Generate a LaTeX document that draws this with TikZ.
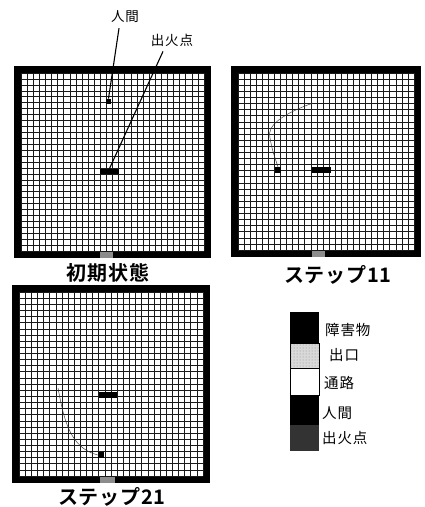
\documentclass[tikz,border=0pt]{standalone}
\usepackage{fontspec}
\setmainfont{Noto Sans CJK JP}
\newfontfamily\jpb{Noto Sans CJK JP Bold}
\usetikzlibrary{patterns}
\begin{document}
\begin{tikzpicture}[x=1pt,y=-1pt,
  frame/.style={fill=black},
  gridln/.style={line width=0.55pt,black!90},
  cellobj/.style={fill=black},
  exitbox/.style={fill=black!45},
  title/.style={font=\jpb\fontsize{20}{20}\selectfont\addfontfeature{LetterSpace=4},inner sep=0pt},
  lbl/.style={font=\fontsize{14.5}{15}\selectfont\addfontfeature{LetterSpace=6},inner sep=0pt,anchor=west},
  toplbl/.style={inner sep=1pt,font=\fontsize{13.5}{14}\selectfont\addfontfeature{LetterSpace=6}},
  lead/.style={line width=1.1pt},
  pathln/.style={line width=0.45pt,black!80}]
\useasboundingbox (0,0) rectangle (424,507);
% ---------- panel 1
\fill[frame] (14,66) rectangle (211,258);
\fill[white] (21,73) rectangle (204,251);
\foreach \i in {0,...,30}{
  \draw[gridln] ({21+\i*6.1},73) -- ({21+\i*6.1},251);
  \draw[gridln] (21,{73+\i*5.933}) -- (204,{73+\i*5.933});}
\fill[exitbox] (100,251.5) rectangle (113,257.5);
\node[cellobj,minimum width=5.5pt,minimum height=5.5pt,inner sep=0pt] (p1) at (108.5,101.5) {};
\node[cellobj,minimum width=19pt,minimum height=5.5pt,inner sep=0pt] (f1) at (109.5,171.5) {};
\node[toplbl] (lp) at (125,17) {人間};
\node[toplbl] (lf) at (172,40) {出火点};
\draw[lead] (lp.south) ++(-6,4) coordinate (lps) -- (p1.north);
\draw[lead] (lf.south) ++(-9,4) coordinate (lfs) -- (f1.north);
\node[title] (t1) at (108,273) {初期状態};
% ---------- panel 2
\fill[frame] (231,66) rectangle (421,257);
\fill[white] (238,73) rectangle (414,250);
\foreach \i in {0,...,29}{
  \draw[gridln] ({238+\i*6.069},73) -- ({238+\i*6.069},250);
  \draw[gridln] (238,{73+\i*6.103}) -- (414,{73+\i*6.103});}
\fill[exitbox] (312,250.5) rectangle (325,256.5);
\node[cellobj,minimum width=6pt,minimum height=6pt,inner sep=0pt] (p2) at (278,170) {};
\node[cellobj,minimum width=19pt,minimum height=6pt,inner sep=0pt] (f2) at (321.5,170) {};
\coordinate (s2) at (313,103);
\draw[pathln] (s2) .. controls (285,113) and (266,125) .. (270,138) .. controls (272,150) and (275,158) .. (p2.north);
\node[title] (t2) at (338,275) {ステップ11};
% ---------- panel 3
\fill[frame] (12,285) rectangle (210,483);
\fill[white] (19,292) rectangle (203,476);
\foreach \i in {0,...,30}{
  \draw[gridln] ({19+\i*6.133},292) -- ({19+\i*6.133},476);
  \draw[gridln] (19,{292+\i*6.133}) -- (203,{292+\i*6.133});}
\fill[exitbox] (100,476.5) rectangle (115,482.5);
\node[cellobj,minimum width=18pt,minimum height=6pt,inner sep=0pt] (f3) at (108,395) {};
\node[cellobj,minimum width=6pt,minimum height=6pt,inner sep=0pt] (p3) at (101,455) {};
\coordinate (s3) at (58,388);
\draw[pathln] (s3) .. controls (64,420) and (70,448) .. (p3.west);
\node[title] (t3) at (112,497) {ステップ21};
% ---------- legend
\node[fill=black,minimum width=29pt,minimum height=31pt,inner sep=0pt,anchor=north west] (g1) at (290,312) {};
\node[draw,fill=black!15,minimum width=29pt,minimum height=25pt,inner sep=0pt,anchor=north west] (g2) at (290,343) {};
\fill[pattern=dots,pattern color=black!45] (g2.north west) rectangle (g2.south east);
\node[draw,fill=white,minimum width=29pt,minimum height=27pt,inner sep=0pt,anchor=north west] (g3) at (290,368) {};
\node[fill=black,minimum width=29pt,minimum height=30pt,inner sep=0pt,anchor=north west] (g4) at (290,395) {};
\node[fill=black!80,minimum width=29pt,minimum height=26pt,inner sep=0pt,anchor=north west] (g5) at (290,425) {};
\node[lbl] (l1) at (325,330) {障害物};
\node[lbl] (l2) at (329,355) {出口};
\node[lbl] (l3) at (324,383) {通路};
\node[lbl] (l4) at (322,413) {人間};
\node[lbl] (l5) at (322,438) {出火点};
\end{tikzpicture}
\end{document}
